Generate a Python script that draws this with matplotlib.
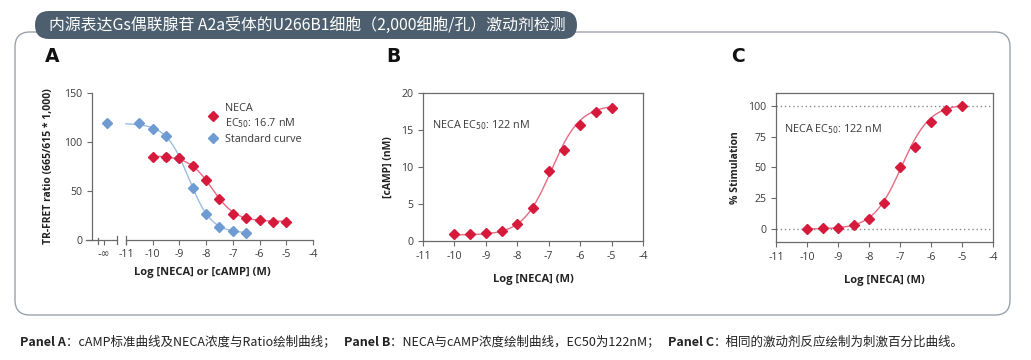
import numpy as np
import matplotlib
matplotlib.use("Agg")
import matplotlib.pyplot as plt
from matplotlib.patches import FancyBboxPatch
from matplotlib.lines import Line2D
import matplotlib.transforms as mtransforms

# ---------------- data ----------------
# Panel A
a_std_x = [-10.5, -10.0, -9.5, -9.0, -8.5, -8.0, -7.5, -7.0, -6.5]
a_std_y = [119, 113, 105.7, 84, 52.8, 26.2, 13.6, 9.2, 7.5]
a_std_inf_y = 119          # value at -inf (no cAMP)
a_neca_x = [-10.0, -9.5, -9.0, -8.5, -8.0, -7.5, -7.0, -6.5, -6.0, -5.5, -5.0]
a_neca_y = [85.2, 84.5, 83.5, 76, 61.4, 42, 27, 22.5, 20, 18.8, 18]
a_neca_err = [1.5, 3.0, 1.5, 3.0, 1.5, 1.5, 1.5, 1.0, 1.0, 1.0, 1.0]
# fit parameters (bottom, top, logEC50, hill)
a_neca_fit = (19.0, 86.0, np.log10(16.7e-9), 1.0)
a_std_fit = (7.0, 119.0, -8.65, 1.02)

# Panel B
b_x = [-10.0, -9.5, -9.0, -8.5, -8.0, -7.5, -7.0, -6.5, -6.0, -5.5, -5.0]
b_y = [1.0, 1.0, 1.1, 1.35, 2.3, 4.5, 9.5, 12.3, 15.7, 17.4, 18.0]
b_fit = (0.8, 18.4, np.log10(122e-9), 0.95)

# Panel C
c_x = [-10.0, -9.5, -9.0, -8.5, -8.0, -7.5, -7.0, -6.5, -6.0, -5.5, -5.0]
c_y = [0.0, 0.2, 0.4, 2.6, 7.6, 21, 50, 66.5, 86.6, 96.7, 99.8]
c_fit = (-0.5, 101.5, -6.95, 0.95)

x_ticks = [-11, -10, -9, -8, -7, -6, -5, -4]
x_ticklabels = ["-11", "-10", "-9", "-8", "-7", "-6", "-5", "-4"]

title = "内源表达Gs偶联腺苷 A2a受体的U266B1细胞（2,000细胞/孔）激动剂检测"

RED = "#d61a3c"
RED_LINE = "#e66a82"
BLUE = "#6f9bd3"
BLUE_LINE = "#9cbde3"
TXT = "#3a3a3a"
SPINE = "#6a6a6a"


def fourpl_inc(x, p):
    b, t, c, n = p
    return b + (t - b) / (1 + 10 ** ((c - x) * n))


def fourpl_dec(x, p):
    b, t, c, n = p
    return b + (t - b) / (1 + 10 ** ((x - c) * n))


plt.rcParams["font.family"] = ["Open Sans", "DejaVu Sans"]

W, H = 10.31, 3.6
fig = plt.figure(figsize=(W, H), dpi=100)
fig.patch.set_facecolor("white")

# outer rounded frame
frame = FancyBboxPatch((0.15, 0.45), 9.95, 2.83,
                       boxstyle="round,pad=0,rounding_size=0.15",
                       transform=fig.dpi_scale_trans, facecolor="none",
                       edgecolor="#9aa3ab", lw=1.0, zorder=0)
fig.patches.append(frame)
# title pill
pill = FancyBboxPatch((0.35, 3.21), 5.42, 0.28,
                      boxstyle="round,pad=0,rounding_size=0.14",
                      transform=fig.dpi_scale_trans, facecolor="#4d5f6e",
                      edgecolor="none", zorder=1)
fig.patches.append(pill)
fig.text(3.07 / W, 3.35 / H, title, color="white", fontsize=11.4,
         family=["Noto Sans CJK SC", "DejaVu Sans"], ha="center", va="center", zorder=2)

tick_kw = dict(labelsize=7.6, colors=TXT, length=3.5, width=0.8, direction="out")


def style_axes(ax):
    for s in ax.spines.values():
        s.set_color(SPINE)
        s.set_linewidth(0.9)
    ax.tick_params(axis="both", **tick_kw)
    ax.tick_params(axis="both", color=SPINE)


# ---------------- Panel A ----------------
axA = fig.add_axes([92 / 1031, 1 - 240 / 360, 221 / 1031, 147 / 360])
style_axes(axA)
axA.spines["top"].set_visible(False)
axA.spines["right"].set_visible(False)
axA.spines["bottom"].set_visible(False)
axA.set_xlim(-12.27, -4)
axA.set_ylim(0, 150)
axA.set_yticks([0, 50, 100, 150])
inf_pos = -11.72
axA.set_xticks([-11.82] + x_ticks)
axA.set_xticklabels(["-∞"] + x_ticklabels)
axA.get_xticklabels()[0].set_family(["DejaVu Sans"])
axA.tick_params(axis="x", pad=3)
# broken bottom axis
trans = mtransforms.blended_transform_factory(axA.transData, axA.transAxes)
axA.plot([-12.5, -11.34], [0, 0], color=SPINE, lw=0.9, transform=trans, clip_on=False)
axA.plot([-11.0, -4.0], [0, 0], color=SPINE, lw=0.9, transform=trans, clip_on=False)
for bx in (-11.34, -11.0):
    axA.plot([bx, bx], [-0.025, 0.025], color=SPINE, lw=0.9, transform=trans, clip_on=False)
axA.plot([-12.05, -12.05], [-0.025, 0.015], color=SPINE, lw=0.9, transform=trans, clip_on=False)

xs = np.linspace(-11.0, -6.5, 200)
axA.plot(xs, fourpl_dec(xs, a_std_fit), color=BLUE_LINE, lw=1.0, zorder=2)
xs2 = np.linspace(-10.0, -5.0, 200)
axA.plot(xs2, fourpl_dec(xs2, a_neca_fit), color=RED_LINE, lw=1.0, zorder=2)
axA.plot([inf_pos] + a_std_x, [a_std_inf_y] + a_std_y, ls="none", marker="D",
         ms=5, color=BLUE, zorder=3, clip_on=False)
axA.errorbar(a_neca_x, a_neca_y, yerr=a_neca_err, ls="none", marker="D", ms=5,
             color=RED, ecolor=RED, elinewidth=0.8, capsize=2, zorder=4)
handles = [Line2D([], [], ls="none", marker="D", ms=5, color=RED),
           Line2D([], [], ls="none", marker="D", ms=5, color=BLUE)]
axA.legend(handles, ["NECA\nEC$_{50}$: 16.7 nM", "Standard curve"],
           loc="upper left", bbox_to_anchor=(0.48, 1.0), frameon=False,
           fontsize=7.8, labelcolor=TXT, handletextpad=0.6, labelspacing=0.4,
           handlelength=1.0)
axA.set_ylabel("TR-FRET ratio (665/615 * 1,000)", fontsize=7.5, fontweight="bold",
               color="#222222", labelpad=7)
axA.set_xlabel("Log [NECA] or [cAMP] (M)", fontsize=8, fontweight="bold",
               color="#222222", labelpad=5)

# ---------------- Panel B ----------------
axB = fig.add_axes([423 / 1031, 1 - 241 / 360, 220 / 1031, 148 / 360])
style_axes(axB)
axB.set_xlim(-11, -4)
axB.set_ylim(0, 20)
axB.set_xticks(x_ticks)
axB.set_xticklabels(x_ticklabels)
axB.set_yticks([0, 5, 10, 15, 20])
xs = np.linspace(-10.0, -5.0, 200)
axB.plot(xs, fourpl_inc(xs, b_fit), color=RED_LINE, lw=1.0, zorder=2)
axB.plot(b_x, b_y, ls="none", marker="D", ms=5, color=RED, zorder=3)
axB.text(0.04, 0.78, "NECA EC$_{50}$: 122 nM", transform=axB.transAxes,
         fontsize=7.8, color=TXT, ha="left", va="center")
axB.set_ylabel("[cAMP] (nM)", fontsize=7.5, fontweight="bold", color="#222222", labelpad=5)
axB.set_xlabel("Log [NECA] (M)", fontsize=8, fontweight="bold", color="#222222", labelpad=9)

# ---------------- Panel C ----------------
axC = fig.add_axes([776 / 1031, 1 - 242 / 360, 217 / 1031, 149 / 360])
style_axes(axC)
axC.set_xlim(-11, -4)
axC.set_ylim(-11, 110.5)
axC.set_xticks(x_ticks)
axC.set_xticklabels(x_ticklabels)
axC.set_yticks([0, 25, 50, 75, 100])
for yv in (0, 100):
    axC.axhline(yv, color="#8a8a8a", lw=1.0, ls=(0, (1, 2)), zorder=1)
xs = np.linspace(-10.0, -5.0, 200)
axC.plot(xs, fourpl_inc(xs, c_fit), color=RED_LINE, lw=1.0, zorder=2)
axC.plot(c_x, c_y, ls="none", marker="D", ms=5, color=RED, zorder=3)
axC.text(0.035, 0.76, "NECA EC$_{50}$: 122 nM", transform=axC.transAxes,
         fontsize=7.8, color=TXT, ha="left", va="center")
axC.set_ylabel("% Stimulation", fontsize=7.5, fontweight="bold", color="#222222", labelpad=5)
axC.set_xlabel("Log [NECA] (M)", fontsize=8, fontweight="bold", color="#222222", labelpad=9)

# panel letters
for lx, lab in ((45, "A"), (386, "B"), (731, "C")):
    fig.text(lx / 1031, 1 - 56 / 360, lab, fontsize=13.5, fontweight="heavy",
             color="#111111", ha="left", va="center", family=["DejaVu Sans"])

# caption
cap_font = ["Noto Sans CJK SC", "DejaVu Sans"]
parts = [("Panel A", True), ("：cAMP标准曲线及NECA浓度与Ratio绘制曲线；   ", False),
         ("Panel B", True), ("：NECA与cAMP浓度绘制曲线，EC50为122nM；   ", False),
         ("Panel C", True), ("：相同的激动剂反应绘制为刺激百分比曲线。", False)]
fig.canvas.draw()
renderer = fig.canvas.get_renderer()
xpos = 20 / 1031
for txt, bold in parts:
    t = fig.text(xpos, 1 - 342 / 360, txt, fontsize=9, family=cap_font,
                 fontweight="bold" if bold else "normal", color="#222222",
                 ha="left", va="center")
    bb = t.get_window_extent(renderer=renderer)
    xpos += bb.width / fig.bbox.width

fig.savefig("out.png", dpi=100)
